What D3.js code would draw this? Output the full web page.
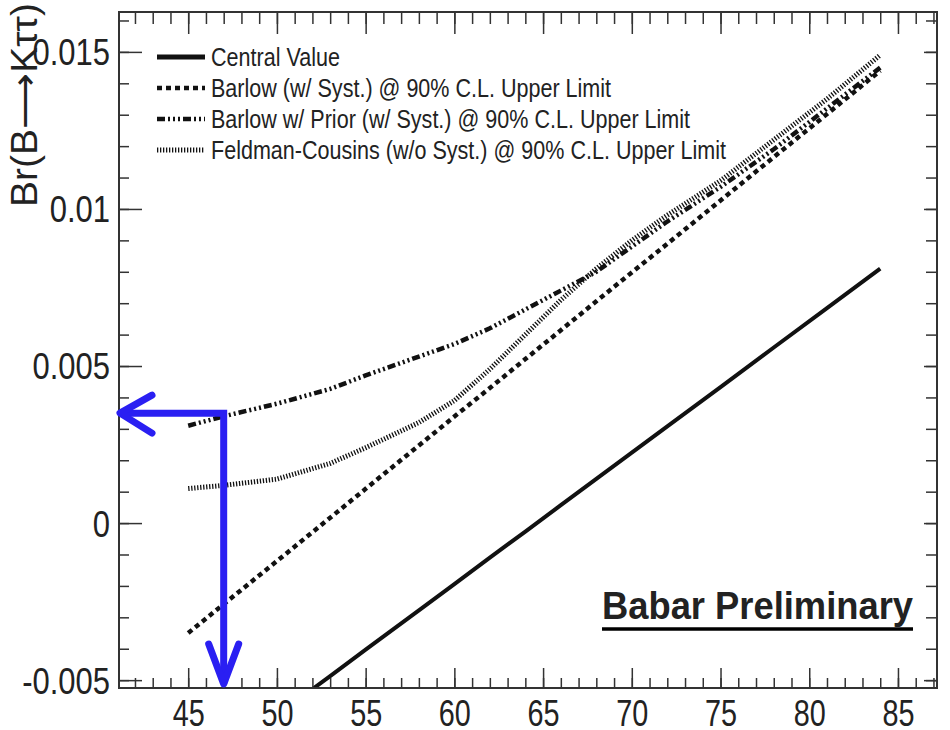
<!DOCTYPE html>
<html>
<head>
<meta charset="utf-8">
<script src="https://cdn.jsdelivr.net/npm/d3@7"></script>
<style>
  body { margin: 0; background: #fff; }
  svg { display: block; }
  text { font-family: "Liberation Sans", Arial, sans-serif; fill: #222; }
</style>
</head>
<body>
<svg width="950" height="730"></svg>
<script>
// mass points (x) and the four curves
const massPoints     = [45, 47, 50, 53, 55, 58, 60, 62, 64, 66, 68, 70, 72, 75, 78, 81, 84];
const centralValue   = [-0.00821, -0.00737, -0.00612, -0.00487, -0.00403, -0.00278, -0.00194, -0.0011, -0.00027, 0.00057, 0.00141, 0.00224, 0.00308, 0.00433, 0.00559, 0.00684, 0.0081];
const barlow         = [-0.0035, -0.00258, -0.00121, 0.00017, 0.00109, 0.00247, 0.00339, 0.0043, 0.00522, 0.00614, 0.00706, 0.00798, 0.00889, 0.01027, 0.01165, 0.01302, 0.0144];
const barlowPrior    = [0.0031, 0.0034, 0.0038, 0.00427, 0.0047, 0.0053, 0.0057, 0.0062, 0.0068, 0.0074, 0.0080, 0.0088, 0.0096, 0.0107, 0.0119, 0.0132, 0.0145];
const feldmanCousins = [0.0011, 0.0012, 0.0014, 0.0019, 0.0024, 0.0032, 0.0039, 0.0049, 0.0060, 0.0071, 0.0081, 0.0090, 0.0098, 0.0109, 0.0122, 0.0135, 0.0149];

const seriesNames = [
  "Central Value",
  "Barlow (w/ Syst.) @ 90% C.L. Upper Limit",
  "Barlow w/ Prior (w/ Syst.) @ 90% C.L. Upper Limit",
  "Feldman-Cousins (w/o Syst.) @ 90% C.L. Upper Limit"
];
const xTickLabels = [45, 50, 55, 60, 65, 70, 75, 80, 85];
const yTickLabels = [-0.005, 0, 0.005, 0.01, 0.015];
const arrowPoint = {mass: 47, br: 0.0035};

const svg = d3.select("svg");
const W = 950, H = 730;
const plot = {left: 119, right: 937, top: 12, bottom: 688};

const x = d3.scaleLinear().domain([41.1, 87.2]).range([plot.left, plot.right]);
const y = d3.scaleLinear().domain([-0.00525, 0.01627]).range([plot.bottom, plot.top]);

// the reference font is a narrow sans, squeeze the text horizontally
function condense(sel, k) {
  sel.each(function() {
    const w = this.getComputedTextLength();
    d3.select(this).attr("textLength", w * k).attr("lengthAdjust", "spacingAndGlyphs");
  });
}

svg.append("rect").attr("width", W).attr("height", H).attr("fill", "#fff");

svg.append("defs").append("clipPath").attr("id", "clip")
  .append("rect")
  .attr("x", plot.left).attr("y", plot.top)
  .attr("width", plot.right - plot.left).attr("height", plot.bottom - plot.top);

// styles per series
const styles = [
  {dash: null,                 width: 4},
  {dash: "5,4",                width: 4.5},
  {dash: "8,3,2,3,2,3,2,3",    width: 4.5},
  {dash: "1.3,1.7",            width: 5}
];
const allSeries = [centralValue, barlow, barlowPrior, feldmanCousins];

const line = d3.line()
  .x(d => x(d[0]))
  .y(d => y(d[1]));

const lines = svg.append("g").attr("clip-path", "url(#clip)");
allSeries.forEach((vals, i) => {
  lines.append("path")
    .datum(massPoints.map((m, j) => [m, vals[j]]))
    .attr("d", line)
    .attr("fill", "none")
    .attr("stroke", "#111")
    .attr("stroke-width", styles[i].width)
    .attr("stroke-dasharray", styles[i].dash);
});

// axes - ticks on all four sides
const minorX = d3.range(42, 88);
const minorY = d3.range(-5, 17).map(v => v / 1000);

function drawAxis(axisFn, scale, pos, values, size, labels) {
  const a = axisFn(scale).tickValues(values).tickSize(size).tickPadding(9)
    .tickFormat(labels ? (d => String(d)) : "");
  const g = svg.append("g").attr("transform", pos).call(a);
  g.select(".domain").remove();
  g.selectAll(".tick line").attr("stroke", "#333").attr("stroke-width", 1.5);
  return g;
}

// bottom
drawAxis(d3.axisBottom, x, `translate(0,${plot.bottom})`, minorX, -10, false);
const gx = drawAxis(d3.axisBottom, x, `translate(0,${plot.bottom})`, xTickLabels, -20, true);
gx.selectAll("text").attr("font-size", 36).attr("dy", null).attr("y", 38);
condense(gx.selectAll("text"), 0.8);
// top
drawAxis(d3.axisTop, x, `translate(0,${plot.top})`, minorX, -12, false);
drawAxis(d3.axisTop, x, `translate(0,${plot.top})`, xTickLabels, -22, false);
// left
drawAxis(d3.axisLeft, y, `translate(${plot.left},0)`, minorY, -10, false);
const gy = drawAxis(d3.axisLeft, y, `translate(${plot.left},0)`, yTickLabels, -23, true);
gy.selectAll("text").attr("font-size", 36).attr("dy", "0.36em");
condense(gy.selectAll("text"), 0.86);
// right
drawAxis(d3.axisRight, y, `translate(${plot.right},0)`, minorY, -11, false);
drawAxis(d3.axisRight, y, `translate(${plot.right},0)`, yTickLabels, -13, false);

// frame
svg.append("rect")
  .attr("x", plot.left).attr("y", plot.top)
  .attr("width", plot.right - plot.left).attr("height", plot.bottom - plot.top)
  .attr("fill", "none").attr("stroke", "#333").attr("stroke-width", 2);

// y title
svg.append("text")
  .attr("transform", "translate(37,3) rotate(-90)")
  .attr("text-anchor", "end")
  .attr("font-size", 36)
  .attr("textLength", 204).attr("lengthAdjust", "spacingAndGlyphs")
  .text("Br(B\u27F6K\u03c4\u03c4)");

// legend
const legend = svg.append("g");
seriesNames.forEach((name, i) => {
  const ly = 57 + i * 31;
  legend.append("line")
    .attr("x1", 157).attr("x2", 205).attr("y1", ly).attr("y2", ly)
    .attr("stroke", "#111")
    .attr("stroke-width", i === 0 ? 5 : styles[i].width)
    .attr("stroke-dasharray", styles[i].dash);
  legend.append("text")
    .attr("x", 211).attr("y", ly + 9)
    .attr("font-size", 25)
    .text(name);
});
const longest = legend.selectAll("text").nodes().map(n => n.getComputedTextLength());
condense(legend.selectAll("text"), 515 / d3.max(longest));

// Babar Preliminary
svg.append("text")
  .attr("x", 602).attr("y", 619)
  .attr("font-size", 39).attr("font-weight", "bold")
  .attr("fill", "#000")
  .attr("textLength", 311).attr("lengthAdjust", "spacingAndGlyphs")
  .text("Babar Preliminary");
svg.append("line")
  .attr("x1", 602).attr("x2", 913)
  .attr("y1", 629).attr("y2", 629)
  .attr("stroke", "#000").attr("stroke-width", 3.5);

// blue arrows
const ax = x(arrowPoint.mass), ay = y(arrowPoint.br);
const tipX = plot.left + 1, tipY = plot.bottom - 4;
const arrows = svg.append("g")
  .attr("fill", "none").attr("stroke", "#2a1ff2").attr("stroke-width", 7);
arrows.append("path")
  .attr("d", `M${tipX},${ay} H${ax} V${tipY}`)
  .attr("stroke-linejoin", "miter");
arrows.append("path")
  .attr("d", `M${tipX + 32},${ay - 18} L${tipX},${ay} L${tipX + 32},${ay + 20}`)
  .attr("stroke-linecap", "round").attr("stroke-linejoin", "round");
arrows.append("path")
  .attr("d", `M${ax - 15},${tipY - 40} L${ax},${tipY} L${ax + 15},${tipY - 40}`)
  .attr("stroke-linecap", "round").attr("stroke-linejoin", "round");
</script>
</body>
</html>
